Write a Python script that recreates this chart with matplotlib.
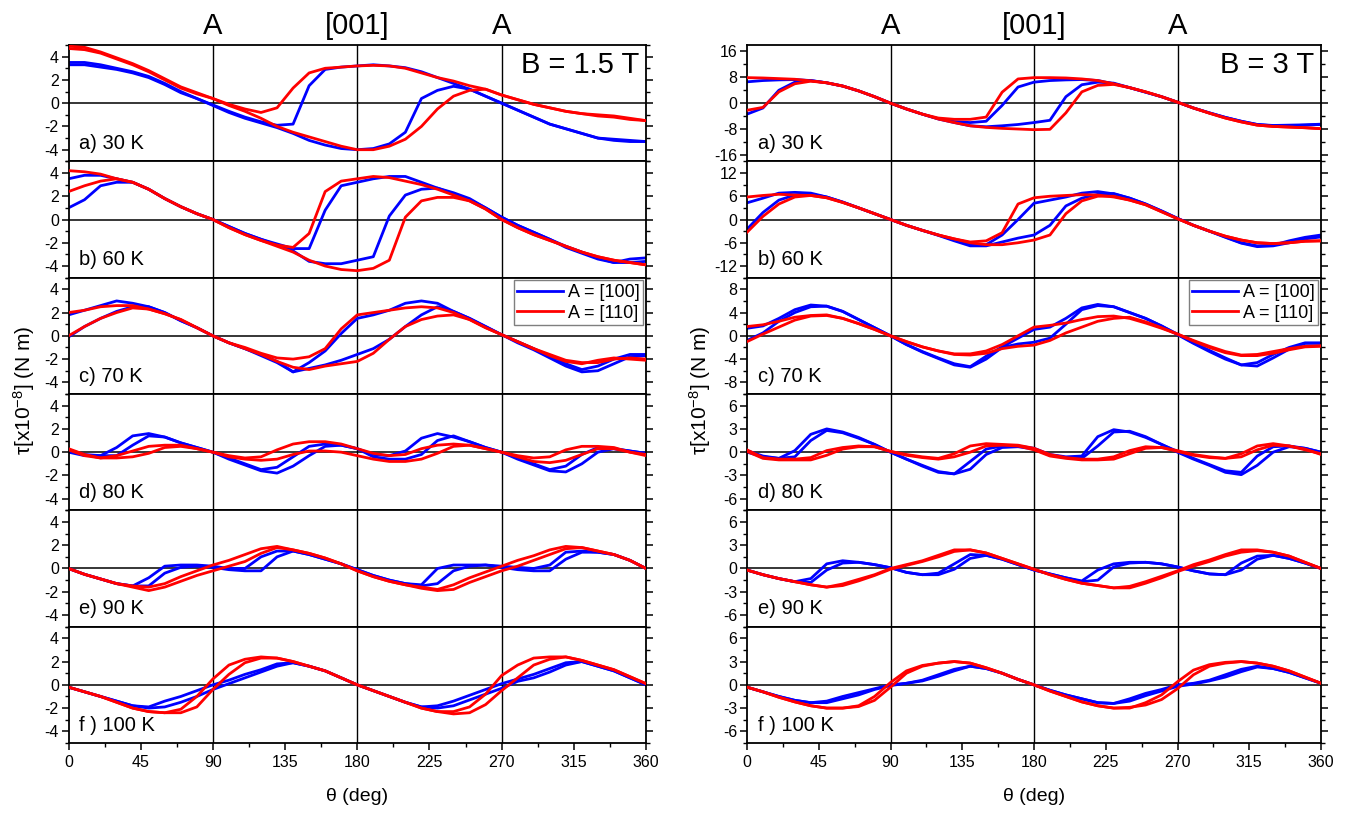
import numpy as np
import matplotlib
matplotlib.use('Agg')
import matplotlib.pyplot as plt
import matplotlib.transforms as mtransforms
from matplotlib.ticker import MultipleLocator

plt.rcParams['font.family'] = ['Liberation Sans', 'DejaVu Sans']
plt.rcParams['mathtext.default'] = 'regular'
plt.rcParams['axes.unicode_minus'] = False

# angle grid (deg), every curve below is sampled on it
theta = np.arange(0, 361, 10)

# ---- B = 1.5 T ----
# 30 K
l30_b1 = [3.3, 3.3, 3.1, 2.9, 2.6, 2.2, 1.6, 0.9, 0.4, -0.15, -0.7, -1.2, -1.6, -1.9, -1.8,
          1.5, 2.9, 3.1, 3.2, 3.3, 3.2, 3.05, 2.7, 2.2, 1.7, 1.2, 0.6, 0.0, -0.6, -1.2, -1.8, -2.2, -2.6, -3.0, -3.1, -3.2, -3.3]
l30_b2 = [3.5, 3.5, 3.3, 3.0, 2.7, 2.3, 1.7, 1.0, 0.4, -0.2, -0.8, -1.3, -1.7, -2.1, -2.6,
          -3.2, -3.6, -3.9, -4.0, -3.9, -3.5, -2.5, 0.4, 1.1, 1.45, 1.2, 0.6, 0.0, -0.6, -1.2, -1.8, -2.2, -2.6, -3.0, -3.2, -3.3, -3.3]
l30_r1 = [4.7, 4.6, 4.3, 3.8, 3.3, 2.7, 2.0, 1.3, 0.8, 0.4, -0.1, -0.5, -0.8, -0.4, 1.3,
          2.6, 3.0, 3.1, 3.2, 3.25, 3.2, 3.0, 2.6, 2.2, 1.9, 1.5, 1.2, 0.7, 0.3, -0.1, -0.4, -0.7, -0.9, -1.0, -1.1, -1.3, -1.5]
l30_r2 = [4.9, 4.8, 4.4, 3.9, 3.4, 2.8, 2.1, 1.4, 0.9, 0.4, -0.2, -0.7, -1.3, -2.0, -2.5,
          -2.9, -3.3, -3.7, -4.0, -4.0, -3.7, -3.1, -2.0, -0.5, 0.6, 1.1, 1.2, 0.7, 0.3, -0.1, -0.4, -0.7, -0.9, -1.1, -1.2, -1.4, -1.5]
# 60 K
l60_b1 = [3.5, 3.8, 3.8, 3.5, 3.2, 2.6, 1.8, 1.1, 0.5, 0.0, -0.6, -1.2, -1.7, -2.1, -2.5,
          -2.5, 0.8, 2.9, 3.2, 3.5, 3.7, 3.7, 3.2, 2.7, 2.2, 1.7, 1.0, 0.2, -0.5, -1.1, -1.7, -2.3, -2.8, -3.3, -3.7, -3.4, -3.3]
l60_b2 = [1.0, 1.7, 2.9, 3.2, 3.2, 2.6, 1.8, 1.1, 0.5, 0.0, -0.6, -1.2, -1.7, -2.2, -2.7,
          -3.6, -3.8, -3.8, -3.5, -3.2, 0.3, 2.1, 2.6, 2.7, 2.3, 1.8, 1.0, 0.2, -0.5, -1.1, -1.7, -2.4, -2.9, -3.4, -3.7, -3.7, -3.6]
l60_r1 = [4.2, 4.1, 3.9, 3.5, 3.2, 2.6, 1.8, 1.1, 0.5, 0.0, -0.7, -1.3, -1.8, -2.2, -2.4,
          -1.2, 2.4, 3.3, 3.5, 3.7, 3.6, 3.3, 3.0, 2.6, 2.1, 1.6, 0.9, 0.0, -0.7, -1.3, -1.8, -2.3, -2.8, -3.2, -3.5, -3.7, -3.9]
l60_r2 = [2.4, 2.9, 3.3, 3.5, 3.2, 2.6, 1.8, 1.1, 0.5, 0.0, -0.7, -1.3, -1.8, -2.3, -2.8,
          -3.5, -4.0, -4.3, -4.4, -4.2, -3.5, 0.2, 1.6, 1.9, 1.9, 1.6, 0.9, 0.0, -0.7, -1.3, -1.8, -2.3, -2.8, -3.2, -3.5, -3.7, -3.9]
# 70 K
l70_b1 = [1.8, 2.2, 2.6, 3.0, 2.8, 2.5, 2.0, 1.3, 0.7, 0.0, -0.6, -1.1, -1.6, -2.2, -3.1,
          -2.3, -1.3, 0.2, 1.5, 1.8, 2.2, 2.8, 3.0, 2.8, 2.1, 1.5, 0.8, 0.1, -0.5, -1.1, -1.8, -2.4, -2.9, -2.6, -2.0, -1.6, -1.6]
l70_b2 = [-0.1, 0.8, 1.5, 2.1, 2.5, 2.5, 2.0, 1.3, 0.7, 0.0, -0.6, -1.1, -1.7, -2.3, -3.1,
          -2.8, -2.5, -2.1, -1.6, -1.1, -0.3, 0.8, 1.8, 2.5, 2.1, 1.5, 0.8, 0.1, -0.6, -1.2, -1.9, -2.6, -3.1, -3.0, -2.4, -1.8, -1.7]
l70_r1 = [2.0, 2.2, 2.5, 2.6, 2.6, 2.3, 1.9, 1.4, 0.7, 0.0, -0.6, -1.0, -1.5, -1.9, -2.0,
          -1.8, -1.1, 0.6, 1.8, 2.0, 2.2, 2.4, 2.5, 2.4, 2.0, 1.4, 0.7, 0.1, -0.5, -1.1, -1.6, -2.1, -2.3, -2.3, -2.0, -1.9, -2.0]
l70_r2 = [0.0, 0.8, 1.5, 2.0, 2.4, 2.3, 1.9, 1.4, 0.7, 0.0, -0.6, -1.1, -1.6, -2.2, -2.7,
          -2.9, -2.6, -2.4, -2.2, -1.5, -0.3, 0.8, 1.4, 1.7, 1.8, 1.4, 0.7, 0.1, -0.5, -1.1, -1.7, -2.2, -2.4, -2.1, -1.9, -2.0, -2.1]
# 80 K
l80_b1 = [0.0, -0.3, -0.3, 0.4, 1.4, 1.6, 1.3, 0.8, 0.4, 0.0, -0.5, -1.0, -1.5, -1.3, -0.4,
          0.5, 0.7, 0.6, 0.3, -0.2, -0.3, 0.1, 1.2, 1.6, 1.3, 0.9, 0.4, 0.0, -0.5, -1.0, -1.5, -1.2, -0.2, 0.4, 0.3, 0.1, -0.1]
l80_b2 = [0.2, -0.2, -0.3, -0.3, 0.6, 1.4, 1.3, 0.8, 0.4, 0.0, -0.6, -1.1, -1.6, -1.8, -1.2,
          -0.3, 0.5, 0.6, 0.3, -0.4, -0.6, -0.6, -0.2, 1.0, 1.4, 0.9, 0.4, 0.0, -0.6, -1.1, -1.6, -1.7, -1.0, 0.0, 0.3, 0.1, -0.1]
l80_r1 = [0.2, -0.3, -0.5, -0.3, 0.1, 0.5, 0.6, 0.6, 0.3, 0.0, -0.3, -0.5, -0.4, 0.2, 0.7,
          0.9, 0.9, 0.7, 0.3, -0.1, -0.3, -0.2, 0.3, 0.6, 0.7, 0.6, 0.3, 0.0, -0.3, -0.5, -0.4, 0.2, 0.5, 0.5, 0.4, 0.0, -0.2]
l80_r2 = [0.3, -0.2, -0.5, -0.5, -0.4, -0.1, 0.4, 0.5, 0.3, 0.0, -0.4, -0.6, -0.7, -0.6, -0.2,
          0.1, 0.1, 0.0, -0.3, -0.6, -0.8, -0.8, -0.6, -0.1, 0.5, 0.6, 0.3, 0.0, -0.4, -0.8, -0.9, -0.7, -0.2, 0.3, 0.3, 0.0, -0.3]
# 90 K
l90_b1 = [0.0, -0.5, -0.9, -1.3, -1.5, -0.8, 0.2, 0.3, 0.3, 0.2, 0.0, 0.0, 1.0, 1.5, 1.5,
          1.2, 0.8, 0.4, -0.1, -0.6, -1.0, -1.3, -1.4, 0.0, 0.3, 0.3, 0.3, 0.2, 0.1, 0.0, 0.3, 1.4, 1.5, 1.4, 1.2, 0.7, 0.0]
l90_b2 = [0.0, -0.5, -0.9, -1.3, -1.5, -1.5, -0.4, 0.1, 0.2, 0.1, -0.1, -0.2, -0.2, 1.0, 1.5,
          1.2, 0.8, 0.4, -0.1, -0.6, -1.0, -1.3, -1.5, -1.3, -0.2, 0.2, 0.3, 0.1, -0.1, -0.2, -0.2, 0.8, 1.4, 1.4, 1.2, 0.7, 0.0]
l90_r1 = [0.0, -0.5, -0.9, -1.3, -1.5, -1.6, -1.3, -0.7, -0.2, 0.3, 0.7, 1.2, 1.7, 1.9, 1.6,
          1.3, 0.9, 0.4, -0.2, -0.7, -1.1, -1.4, -1.6, -1.8, -1.4, -0.8, -0.3, 0.2, 0.7, 1.1, 1.6, 1.9, 1.8, 1.5, 1.2, 0.7, 0.0]
l90_r2 = [0.0, -0.5, -0.9, -1.3, -1.6, -1.9, -1.6, -1.1, -0.6, -0.2, 0.2, 0.6, 1.3, 1.8, 1.6,
          1.3, 0.9, 0.4, -0.2, -0.7, -1.1, -1.4, -1.7, -1.9, -1.8, -1.2, -0.7, -0.2, 0.2, 0.7, 1.2, 1.7, 1.8, 1.5, 1.2, 0.7, 0.0]
# 100 K
l100_b1 = [-0.2, -0.6, -1.0, -1.4, -1.8, -1.9, -1.4, -1.0, -0.5, 0.0, 0.4, 0.9, 1.3, 1.8, 1.9,
           1.6, 1.2, 0.6, 0.0, -0.5, -1.0, -1.5, -1.9, -1.8, -1.4, -0.9, -0.4, 0.1, 0.5, 0.9, 1.4, 1.9, 2.0, 1.6, 1.2, 0.6, 0.0]
l100_b2 = [-0.2, -0.6, -1.0, -1.4, -1.8, -2.0, -1.9, -1.5, -1.0, -0.4, 0.1, 0.6, 1.1, 1.6, 1.9,
           1.6, 1.2, 0.6, 0.0, -0.5, -1.0, -1.5, -1.9, -2.0, -1.8, -1.3, -0.8, -0.3, 0.3, 0.6, 1.1, 1.7, 2.0, 1.6, 1.2, 0.6, 0.0]
l100_r1 = [-0.2, -0.6, -1.0, -1.5, -2.0, -2.3, -2.4, -2.1, -1.0, 0.5, 1.7, 2.2, 2.4, 2.3, 2.0,
           1.6, 1.2, 0.6, 0.0, -0.5, -1.0, -1.5, -2.0, -2.3, -2.3, -1.9, -0.8, 0.8, 1.7, 2.3, 2.4, 2.4, 2.1, 1.7, 1.3, 0.7, 0.1]
l100_r2 = [-0.2, -0.6, -1.0, -1.5, -2.0, -2.3, -2.4, -2.4, -1.9, -0.4, 0.9, 1.9, 2.3, 2.3, 2.0,
           1.6, 1.2, 0.6, 0.0, -0.5, -1.0, -1.5, -2.0, -2.3, -2.5, -2.4, -1.7, -0.5, 0.6, 1.7, 2.2, 2.4, 2.1, 1.7, 1.3, 0.7, 0.1]

# ---- B = 3 T ----
# 30 K
r30_b1 = [6.6, 7.0, 7.2, 7.3, 7.0, 6.3, 5.3, 3.8, 2.0, 0.0, -1.8, -3.4, -4.8, -5.7, -6.0,
          -5.6, -0.7, 5.0, 6.5, 7.0, 7.2, 7.3, 7.0, 6.0, 4.8, 3.4, 2.0, 0.3, -1.5, -3.0, -4.4, -5.6, -6.6, -6.9, -6.8, -6.7, -6.5]
r30_b2 = [-3.4, -1.5, 4.0, 6.5, 7.0, 6.3, 5.3, 3.8, 2.0, 0.0, -1.8, -3.4, -4.9, -6.0, -7.0,
          -7.3, -7.0, -6.6, -6.0, -5.3, 2.0, 5.7, 6.5, 6.2, 4.8, 3.4, 2.0, 0.3, -1.5, -3.0, -4.4, -5.6, -6.6, -7.0, -7.0, -6.8, -6.6]
r30_r1 = [7.9, 7.8, 7.6, 7.4, 6.9, 6.3, 5.3, 3.8, 2.0, 0.0, -1.8, -3.4, -4.6, -5.0, -5.0,
          -4.3, 3.4, 7.5, 7.9, 7.9, 7.8, 7.5, 7.0, 6.0, 4.8, 3.5, 2.0, 0.3, -1.5, -3.1, -4.6, -5.8, -6.8, -7.2, -7.4, -7.6, -7.9]
r30_r2 = [-2.2, -1.3, 3.5, 6.0, 6.8, 6.3, 5.3, 3.8, 2.0, 0.0, -1.8, -3.4, -4.9, -6.0, -7.0,
          -7.5, -7.8, -8.0, -8.2, -8.1, -3.0, 3.5, 5.5, 5.8, 4.8, 3.5, 2.0, 0.3, -1.5, -3.1, -4.6, -5.8, -6.8, -7.2, -7.4, -7.6, -7.9]
# 60 K
r60_b1 = [4.3, 5.5, 6.8, 7.0, 6.8, 5.8, 4.5, 3.0, 1.5, 0.0, -1.5, -2.8, -4.0, -5.3, -6.5,
          -6.5, -4.0, 0.0, 4.2, 5.0, 5.8, 6.8, 7.2, 6.6, 5.5, 4.0, 2.2, 0.3, -1.5, -3.0, -4.5, -6.0, -6.8, -6.6, -5.5, -4.6, -4.0]
r60_b2 = [-2.5, 1.8, 5.0, 6.3, 6.5, 5.8, 4.5, 3.0, 1.5, 0.0, -1.5, -2.8, -4.1, -5.5, -6.8,
          -6.8, -5.8, -4.8, -4.0, -1.5, 3.5, 5.5, 6.5, 6.7, 5.5, 4.0, 2.2, 0.3, -1.5, -3.0, -4.6, -6.1, -7.0, -6.8, -6.0, -5.0, -4.5]
r60_r1 = [5.8, 6.2, 6.5, 6.3, 6.2, 5.6, 4.4, 3.0, 1.5, 0.0, -1.5, -2.8, -4.0, -5.0, -5.8,
          -5.5, -3.4, 4.0, 5.6, 6.0, 6.2, 6.4, 6.3, 5.8, 5.0, 3.8, 2.0, 0.2, -1.5, -3.0, -4.3, -5.3, -6.0, -6.2, -6.0, -5.6, -5.5]
r60_r2 = [-3.3, 0.8, 4.0, 5.8, 6.2, 5.6, 4.4, 3.0, 1.5, 0.0, -1.5, -2.8, -4.0, -5.0, -6.0,
          -6.5, -6.5, -6.0, -5.3, -4.0, 1.5, 4.8, 6.0, 6.0, 5.0, 3.8, 2.0, 0.2, -1.5, -3.0, -4.3, -5.3, -6.0, -6.2, -6.0, -5.6, -5.5]
# 70 K
r70_b1 = [1.3, 1.7, 3.0, 4.5, 5.3, 5.1, 4.2, 2.8, 1.4, 0.0, -1.5, -2.7, -3.8, -4.8, -5.3,
          -3.5, -1.9, -0.4, 1.1, 1.5, 3.0, 4.8, 5.4, 5.0, 4.0, 3.0, 1.7, 0.3, -1.2, -2.5, -3.8, -5.0, -4.6, -3.2, -2.0, -1.2, -1.2]
r70_b2 = [-0.8, 0.5, 2.5, 4.0, 5.0, 5.1, 4.2, 2.8, 1.4, 0.0, -1.5, -2.8, -3.9, -5.0, -5.4,
          -4.0, -2.0, -1.4, -1.1, -0.4, 2.0, 4.5, 5.2, 5.0, 4.0, 3.0, 1.7, 0.2, -1.3, -2.7, -4.0, -5.0, -5.2, -3.8, -2.3, -1.3, -1.3]
r70_r1 = [1.6, 1.9, 2.5, 3.2, 3.5, 3.6, 3.0, 2.1, 1.1, 0.0, -1.0, -1.9, -2.6, -3.1, -3.1,
          -2.6, -1.5, 0.0, 1.5, 1.8, 2.2, 2.8, 3.3, 3.4, 3.0, 2.2, 1.3, 0.3, -0.8, -1.8, -2.7, -3.3, -3.2, -2.7, -2.2, -1.8, -1.7]
r70_r2 = [-1.0, 0.3, 1.5, 2.7, 3.4, 3.5, 3.0, 2.1, 1.1, 0.0, -1.0, -1.9, -2.6, -3.2, -3.3,
          -3.0, -2.2, -1.8, -1.6, -0.8, 0.5, 1.5, 2.5, 3.0, 3.2, 2.4, 1.4, 0.3, -0.9, -2.0, -2.9, -3.4, -3.4, -3.0, -2.4, -1.9, -1.8]
# 80 K
r80_b1 = [0.2, -0.5, -0.8, 0.2, 2.3, 3.0, 2.6, 1.9, 1.0, 0.0, -0.9, -1.7, -2.5, -2.8, -1.2,
          0.4, 0.8, 0.8, 0.5, -0.3, -0.6, -0.5, 2.0, 2.9, 2.6, 1.9, 1.0, 0.1, -0.8, -1.6, -2.4, -2.6, -0.5, 0.7, 0.8, 0.5, 0.0]
r80_b2 = [0.0, -0.6, -0.8, -0.6, 1.5, 2.8, 2.5, 1.8, 1.0, 0.0, -0.9, -1.8, -2.6, -2.8, -2.2,
          -0.3, 0.6, 0.7, 0.4, -0.4, -0.7, -0.8, 0.8, 2.6, 2.7, 2.0, 1.0, 0.0, -0.9, -1.7, -2.6, -2.9, -1.7, 0.0, 0.7, 0.5, 0.0]
r80_r1 = [0.3, -0.7, -0.9, -0.9, -0.7, 0.2, 0.6, 0.8, 0.7, 0.1, -0.3, -0.6, -0.8, -0.2, 0.8,
          1.1, 1.0, 0.9, 0.5, -0.3, -0.7, -0.9, -0.9, -0.6, 0.2, 0.7, 0.6, 0.2, -0.3, -0.6, -0.8, -0.2, 0.8, 1.1, 0.8, 0.3, -0.2]
r80_r2 = [0.1, -0.8, -1.0, -1.0, -1.0, -0.4, 0.4, 0.7, 0.7, 0.1, -0.4, -0.7, -0.9, -0.6, 0.0,
          0.8, 0.9, 0.8, 0.3, -0.5, -0.8, -1.0, -1.0, -0.9, -0.2, 0.5, 0.6, 0.1, -0.4, -0.7, -0.8, -0.6, 0.3, 0.9, 0.8, 0.4, -0.3]
# 90 K
r90_b1 = [-0.2, -0.8, -1.3, -1.7, -1.3, 0.6, 1.0, 0.8, 0.5, 0.1, -0.5, -0.8, -0.6, 0.6, 1.8,
          1.7, 1.2, 0.5, -0.2, -0.7, -1.2, -1.6, -0.2, 0.6, 0.8, 0.8, 0.6, 0.2, -0.3, -0.7, -0.8, 0.7, 1.6, 1.7, 1.3, 0.7, 0.0]
r90_b2 = [-0.2, -0.8, -1.3, -1.7, -1.8, -0.2, 0.7, 0.8, 0.5, 0.1, -0.5, -0.8, -0.8, -0.1, 1.3,
          1.7, 1.2, 0.5, -0.2, -0.7, -1.2, -1.7, -1.5, 0.2, 0.7, 0.8, 0.6, 0.2, -0.3, -0.7, -0.8, -0.2, 1.2, 1.7, 1.3, 0.7, 0.0]
r90_r1 = [-0.2, -0.8, -1.3, -1.7, -2.1, -2.4, -2.0, -1.4, -0.8, 0.0, 0.5, 1.0, 1.7, 2.4, 2.4,
          2.0, 1.3, 0.6, -0.1, -0.8, -1.4, -1.9, -2.2, -2.5, -2.3, -1.7, -1.0, -0.3, 0.5, 1.1, 1.8, 2.4, 2.4, 2.1, 1.6, 0.8, 0.0]
r90_r2 = [-0.2, -0.8, -1.3, -1.7, -2.1, -2.4, -2.2, -1.6, -0.9, -0.1, 0.4, 0.9, 1.5, 2.2, 2.4,
          2.0, 1.3, 0.6, -0.1, -0.8, -1.4, -1.9, -2.2, -2.5, -2.5, -1.9, -1.2, -0.4, 0.3, 0.9, 1.6, 2.1, 2.3, 2.1, 1.6, 0.8, 0.0]
# 100 K
r100_b1 = [-0.3, -0.9, -1.5, -2.0, -2.3, -2.1, -1.5, -1.0, -0.5, 0.0, 0.2, 0.6, 1.3, 2.0, 2.4,
           2.1, 1.5, 0.7, 0.0, -0.7, -1.3, -1.8, -2.3, -2.4, -1.8, -1.1, -0.6, 0.0, 0.2, 0.6, 1.3, 2.0, 2.4, 2.1, 1.6, 0.9, 0.2]
r100_b2 = [-0.3, -0.9, -1.5, -2.0, -2.3, -2.3, -1.8, -1.3, -0.6, -0.1, 0.2, 0.5, 1.1, 1.8, 2.4,
           2.1, 1.5, 0.7, 0.0, -0.7, -1.3, -1.8, -2.3, -2.4, -2.1, -1.4, -0.8, -0.2, 0.1, 0.5, 1.0, 1.7, 2.3, 2.1, 1.6, 0.9, 0.2]
r100_r1 = [-0.3, -0.9, -1.6, -2.2, -2.7, -3.0, -3.0, -2.7, -1.5, 0.3, 1.8, 2.5, 2.8, 3.0, 2.8,
           2.2, 1.5, 0.7, 0.0, -0.8, -1.5, -2.2, -2.7, -3.0, -3.0, -2.3, -1.3, 0.4, 1.9, 2.6, 2.9, 3.0, 2.8, 2.4, 1.8, 1.0, 0.2]
r100_r2 = [-0.3, -0.9, -1.6, -2.2, -2.7, -3.0, -3.0, -2.8, -2.0, -0.3, 1.5, 2.4, 2.8, 3.0, 2.8,
           2.2, 1.5, 0.7, 0.0, -0.8, -1.5, -2.2, -2.7, -3.0, -2.9, -2.6, -1.9, -0.5, 1.3, 2.4, 2.8, 3.0, 2.8, 2.4, 1.8, 1.0, 0.2]

left_panels = [('a) 30 K', l30_b1, l30_b2, l30_r1, l30_r2),
               ('b) 60 K', l60_b1, l60_b2, l60_r1, l60_r2),
               ('c) 70 K', l70_b1, l70_b2, l70_r1, l70_r2),
               ('d) 80 K', l80_b1, l80_b2, l80_r1, l80_r2),
               ('e) 90 K', l90_b1, l90_b2, l90_r1, l90_r2),
               ('f ) 100 K', l100_b1, l100_b2, l100_r1, l100_r2)]
right_panels = [('a) 30 K', r30_b1, r30_b2, r30_r1, r30_r2),
                ('b) 60 K', r60_b1, r60_b2, r60_r1, r60_r2),
                ('c) 70 K', r70_b1, r70_b2, r70_r1, r70_r2),
                ('d) 80 K', r80_b1, r80_b2, r80_r1, r80_r2),
                ('e) 90 K', r90_b1, r90_b2, r90_r1, r90_r2),
                ('f ) 100 K', r100_b1, r100_b2, r100_r1, r100_r2)]
left_lim = [5, 5, 5, 5, 5, 5]
left_step = [2, 2, 2, 2, 2, 2]
right_lim = [18, 15, 10, 7.5, 7.5, 7.5]
right_step = [8, 6, 4, 3, 3, 3]

BLUE = '#0000ff'
RED = '#ff0000'
TOP = 1 - 45 / 813.
BOTTOM = 1 - 743 / 813.


def draw_column(fig, x0, x1, panels, lims, steps, field_text):
    gs = fig.add_gridspec(6, 1, left=x0, right=x1, top=TOP, bottom=BOTTOM, hspace=0)
    axes = []
    for i, (label, b1, b2, r1, r2) in enumerate(panels):
        ax = fig.add_subplot(gs[i, 0])
        ax.axhline(0, color='k', lw=1.1, zorder=1)
        for xv in (90, 180, 270):
            ax.axvline(xv, color='k', lw=1.0, zorder=1)
        lb, = ax.plot(theta, b1, color=BLUE, lw=2.0, zorder=2)
        ax.plot(theta, b2, color=BLUE, lw=2.0, zorder=2)
        lr, = ax.plot(theta, r1, color=RED, lw=2.0, zorder=3)
        ax.plot(theta, r2, color=RED, lw=2.0, zorder=3)
        ax.set_xlim(0, 360)
        ax.set_ylim(-lims[i], lims[i])
        ax.yaxis.set_major_locator(MultipleLocator(steps[i]))
        ax.yaxis.set_minor_locator(MultipleLocator(steps[i] / 2.))
        ax.xaxis.set_major_locator(MultipleLocator(45))
        ax.xaxis.set_minor_locator(MultipleLocator(22.5))
        ax.tick_params(axis='y', which='both', direction='out', left=True, right=True, labelsize=11.5, pad=2)
        last = (i == len(panels) - 1)
        ax.tick_params(axis='x', which='both', direction='out', bottom=last, top=False,
                       labelbottom=last, labelsize=11.5)
        ax.tick_params(which='major', length=5, width=1.1)
        ax.tick_params(which='minor', length=3, width=1.0)
        for sp in ax.spines.values():
            sp.set_linewidth(1.3)
        ax.text(0.019, 0.105, label, transform=ax.transAxes, fontsize=14.5, va='baseline')
        if i == 2:
            leg = ax.legend([lb, lr], ['A = [100]', 'A = [110]'], loc='upper right',
                            bbox_to_anchor=(1.0, 1.0), fontsize=13, handlelength=2.5,
                            handletextpad=0.3, borderpad=0.2, labelspacing=0.2,
                            borderaxespad=0.15, fancybox=False, framealpha=1)
            leg.get_frame().set_edgecolor('#7f7f7f')
            leg.get_frame().set_linewidth(1.0)
        axes.append(ax)
    top = axes[0]
    trans = mtransforms.blended_transform_factory(top.transData, top.transAxes)
    for xv, s in ((90, 'A'), (180, '[001]'), (270, 'A')):
        top.text(xv, 1.095, s, transform=trans, ha='center', va='baseline', fontsize=21)
    top.text(0.988, 0.76, field_text, transform=top.transAxes, ha='right', va='baseline', fontsize=21)
    return axes


fig = plt.figure(figsize=(13.52, 8.13), dpi=100)
draw_column(fig, 68.5 / 1352., 646 / 1352., left_panels, left_lim, left_step, 'B = 1.5 T')
draw_column(fig, 747 / 1352., 1321 / 1352., right_panels, right_lim, right_step, 'B = 3 T')

ylab = u'\u03c4[x10$^{-8}$] (N m)'
fig.text(0.018, 0.52, ylab, rotation=90, ha='center', va='center', fontsize=15)
fig.text(0.518, 0.52, ylab, rotation=90, ha='center', va='center', fontsize=15)
fig.text(357 / 1352., 0.02, u'\u03b8 (deg)', ha='center', va='center', fontsize=14)
fig.text(1034 / 1352., 0.02, u'\u03b8 (deg)', ha='center', va='center', fontsize=14)

fig.savefig('out.png', dpi=100)
